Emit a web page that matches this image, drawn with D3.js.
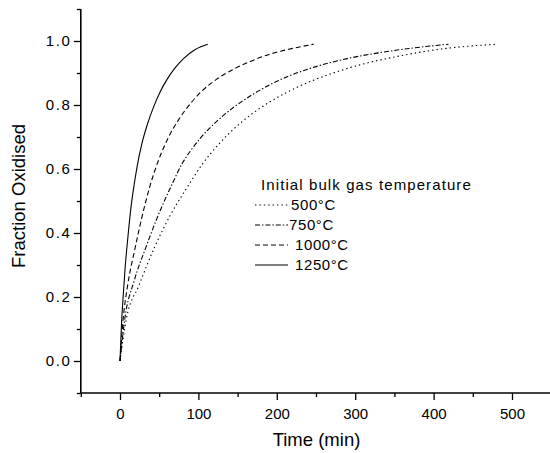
<!DOCTYPE html>
<html>
<head>
<meta charset="utf-8">
<script src="https://cdn.jsdelivr.net/npm/d3@7/dist/d3.min.js"></script>
<style>
  html, body { margin: 0; padding: 0; background: #fff; }
  svg { display: block; font-family: "Liberation Sans", Arial, sans-serif; }
</style>
</head>
<body>
<svg id="chart" width="550" height="453"></svg>
<script>
// Oxidation progress of the particle bed over time, per initial bulk gas temperature
const seriesNames = ["500°C", "750°C", "1000°C", "1250°C"];

const time500 = [0, 8, 24, 44, 64, 85, 105, 125, 145, 166, 190, 230, 272, 310, 350, 410, 481];
const frac500 = [0, 0.13, 0.235, 0.355, 0.455, 0.54, 0.615, 0.675, 0.725, 0.768, 0.808, 0.86, 0.9, 0.928, 0.95, 0.975, 0.99];

const time750 = [0, 6, 18, 33, 47, 65, 80, 90, 102, 123, 145, 166, 190, 215, 250, 290, 330, 370, 419];
const frac750 = [0, 0.13, 0.25, 0.355, 0.445, 0.545, 0.62, 0.657, 0.695, 0.748, 0.793, 0.828, 0.862, 0.89, 0.92, 0.945, 0.963, 0.977, 0.99];

const time1000 = [0, 4, 10, 19, 28, 38, 48, 60, 75, 90, 105, 123, 145, 166, 190, 215, 247];
const frac1000 = [0, 0.13, 0.24, 0.35, 0.45, 0.545, 0.62, 0.69, 0.755, 0.805, 0.845, 0.88, 0.912, 0.936, 0.958, 0.974, 0.99];

const time1250 = [0, 2, 4, 6.5, 10, 14, 18, 22, 28, 35, 43, 51, 60, 70, 81, 95, 103, 112];
const frac1250 = [0, 0.12, 0.2, 0.29, 0.385, 0.48, 0.55, 0.61, 0.68, 0.74, 0.795, 0.84, 0.88, 0.915, 0.945, 0.972, 0.982, 0.99];

const xMajorTicks = [0, 100, 200, 300, 400, 500];
const xMinorTicks = [-50, 50, 150, 250, 350, 450, 550];
const yMajorTicks = [0.0, 0.2, 0.4, 0.6, 0.8, 1.0];
const yMinorTicks = [-0.1, 0.1, 0.3, 0.5, 0.7, 0.9, 1.1];

const legendTitle = "Initial bulk gas temperature";
const xTitle = "Time (min)";
const yTitle = "Fraction Oxidised";

const series = [
  { name: seriesNames[0], t: time500, f: frac500, dash: "1.4,3" },
  { name: seriesNames[1], t: time750, f: frac750, dash: "5,2,1.4,2" },
  { name: seriesNames[2], t: time1000, f: frac1000, dash: "5,3" },
  { name: seriesNames[3], t: time1250, f: frac1250, dash: null }
];

const svg = d3.select("#chart");

const x = d3.scaleLinear().domain([-50, 550]).range([80.8, 551.2]);
const y = d3.scaleLinear().domain([-0.1, 1.1]).range([393, 9]);

const axisColor = "#000";

// Bottom axis: major ticks with labels, minor ticks without
const gx = svg.append("g").attr("transform", `translate(0,${y(-0.1)})`);
gx.call(d3.axisBottom(x).tickValues(xMajorTicks).tickSize(7).tickPadding(8).tickFormat(d3.format("d")))
  .call(g => g.select(".domain").remove());
gx.selectAll(".tick line").attr("stroke-width", 1.3);
gx.selectAll(".tick text").attr("font-size", 15).attr("font-family", "Liberation Sans, Arial, sans-serif").attr("fill", "#000");
const gxMinor = svg.append("g").attr("transform", `translate(0,${y(-0.1)})`);
gxMinor.call(d3.axisBottom(x).tickValues(xMinorTicks).tickSize(4).tickFormat(""))
  .call(g => g.select(".domain").remove());
gxMinor.selectAll(".tick line").attr("stroke-width", 1.3);

// Left axis
const gy = svg.append("g").attr("transform", `translate(${x(-50)},0)`);
gy.call(d3.axisLeft(y).tickValues(yMajorTicks).tickSize(7).tickPadding(4).tickFormat(d3.format(".1f")))
  .call(g => g.select(".domain").remove());
gy.selectAll(".tick line").attr("stroke-width", 1.3);
gy.selectAll(".tick text").attr("font-size", 15).attr("font-family", "Liberation Sans, Arial, sans-serif")
  .attr("fill", "#000").attr("letter-spacing", "1.6px").attr("dx", "1.6");
const gyMinor = svg.append("g").attr("transform", `translate(${x(-50)},0)`);
gyMinor.call(d3.axisLeft(y).tickValues(yMinorTicks).tickSize(4).tickFormat(""))
  .call(g => g.select(".domain").remove());
gyMinor.selectAll(".tick line").attr("stroke-width", 1.3);

// Axis lines
svg.append("line")
  .attr("x1", x(-50)).attr("x2", x(-50)).attr("y1", y(1.1)).attr("y2", y(-0.1))
  .attr("stroke", axisColor).attr("stroke-width", 1.6);
svg.append("line")
  .attr("x1", x(-50)).attr("x2", 550).attr("y1", y(-0.1)).attr("y2", y(-0.1))
  .attr("stroke", axisColor).attr("stroke-width", 1.6);

// Curves
const line = d3.line()
  .x(d => x(d[0]))
  .y(d => y(d[1]))
  .curve(d3.curveMonotoneX);

series.forEach(s => {
  const pts = s.t.map((t, i) => [t, s.f[i]]);
  svg.append("path")
    .datum(pts)
    .attr("d", line)
    .attr("fill", "none")
    .attr("stroke", "#000")
    .attr("stroke-width", 1.1)
    .attr("stroke-dasharray", s.dash);
});

// Axis titles
svg.append("text")
  .attr("x", 316.5).attr("y", 446)
  .attr("text-anchor", "middle")
  .attr("font-size", 18.5)
  .text(xTitle);

svg.append("text")
  .attr("transform", "translate(25,196) rotate(-90)")
  .attr("text-anchor", "middle")
  .attr("font-size", 18.5)
  .text(yTitle);

// Legend
const legend = svg.append("g");
legend.append("text")
  .attr("x", 261).attr("y", 190)
  .attr("font-size", 15)
  .attr("letter-spacing", "1.1px")
  .text(legendTitle);

const labelShift = [0, -2, 4, 4];
series.forEach((s, i) => {
  const cy = 205 + i * 20;
  legend.append("line")
    .attr("x1", 255).attr("x2", 288)
    .attr("y1", cy).attr("y2", cy)
    .attr("stroke", "#000")
    .attr("stroke-width", 1.1)
    .attr("stroke-dasharray", s.dash);
  legend.append("text")
    .attr("x", 291 + labelShift[i]).attr("y", cy + 5)
    .attr("font-size", 15)
    .attr("letter-spacing", "0.6px")
    .text(s.name);
});
</script>
</body>
</html>
